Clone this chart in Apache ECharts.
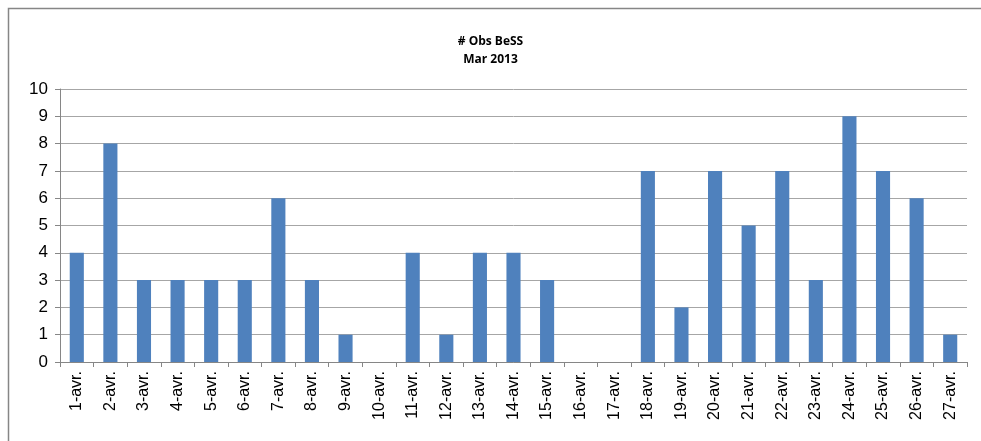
<!DOCTYPE html>
<html>
<head>
<meta charset="utf-8">
<script src="https://cdn.jsdelivr.net/npm/echarts@6/dist/echarts.min.js"></script>
<style>
  html, body { margin: 0; padding: 0; background: #fff; }
  #chart { width: 981px; height: 441px; }
</style>
</head>
<body>
<div id="chart"></div>
<script>
var days = ['1-avr.', '2-avr.', '3-avr.', '4-avr.', '5-avr.', '6-avr.', '7-avr.', '8-avr.', '9-avr.',
  '10-avr.', '11-avr.', '12-avr.', '13-avr.', '14-avr.', '15-avr.', '16-avr.', '17-avr.', '18-avr.',
  '19-avr.', '20-avr.', '21-avr.', '22-avr.', '23-avr.', '24-avr.', '25-avr.', '26-avr.', '27-avr.'];
var obs = [4, 8, 3, 3, 3, 3, 6, 3, 1, 0, 4, 1, 4, 4, 3, 0, 0, 7, 2, 7, 5, 7, 3, 9, 7, 6, 1];
var titleLines = ['# Obs BeSS', 'Mar 2013'];

var myChart = echarts.init(document.getElementById('chart'));
myChart.setOption({
    animation: false,
    title: {
        text: titleLines.join('\n'),
        left: 'center',
        top: 28,
        textStyle: {
            fontFamily: 'Open Sans',
            fontSize: 12,
            fontWeight: 'bold',
            color: '#000',
            lineHeight: 18
        }
    },
    graphic: [{
        type: 'rect',
        shape: { x: 8.5, y: 8.5, width: 1000, height: 500 },
        style: { fill: 'none', stroke: '#868686', lineWidth: 1.5 },
        silent: true
    }],
    grid: { left: 60, right: 14, top: 89, bottom: 79 },
    xAxis: {
        type: 'category',
        data: days,
        axisLine: { lineStyle: { color: '#868686' } },
        axisTick: { show: true, length: 5, lineStyle: { color: '#868686' } },
        axisLabel: {
            rotate: 90,
            margin: 9,
            fontFamily: 'Liberation Sans',
            fontSize: 16,
            color: '#000'
        }
    },
    yAxis: {
        type: 'value',
        min: 0,
        max: 10,
        interval: 1,
        axisLine: { show: true, lineStyle: { color: '#868686' } },
        axisTick: { show: true, length: 5, lineStyle: { color: '#868686' } },
        splitLine: { lineStyle: { color: '#a6a6a6' } },
        axisLabel: {
            margin: 12,
            fontFamily: 'Liberation Sans',
            fontSize: 17,
            color: '#000'
        }
    },
    series: [{
        name: '# Obs BeSS',
        type: 'bar',
        data: obs,
        barWidth: '42%',
        itemStyle: { color: '#4f81bd' }
    }]
});
</script>
</body>
</html>
